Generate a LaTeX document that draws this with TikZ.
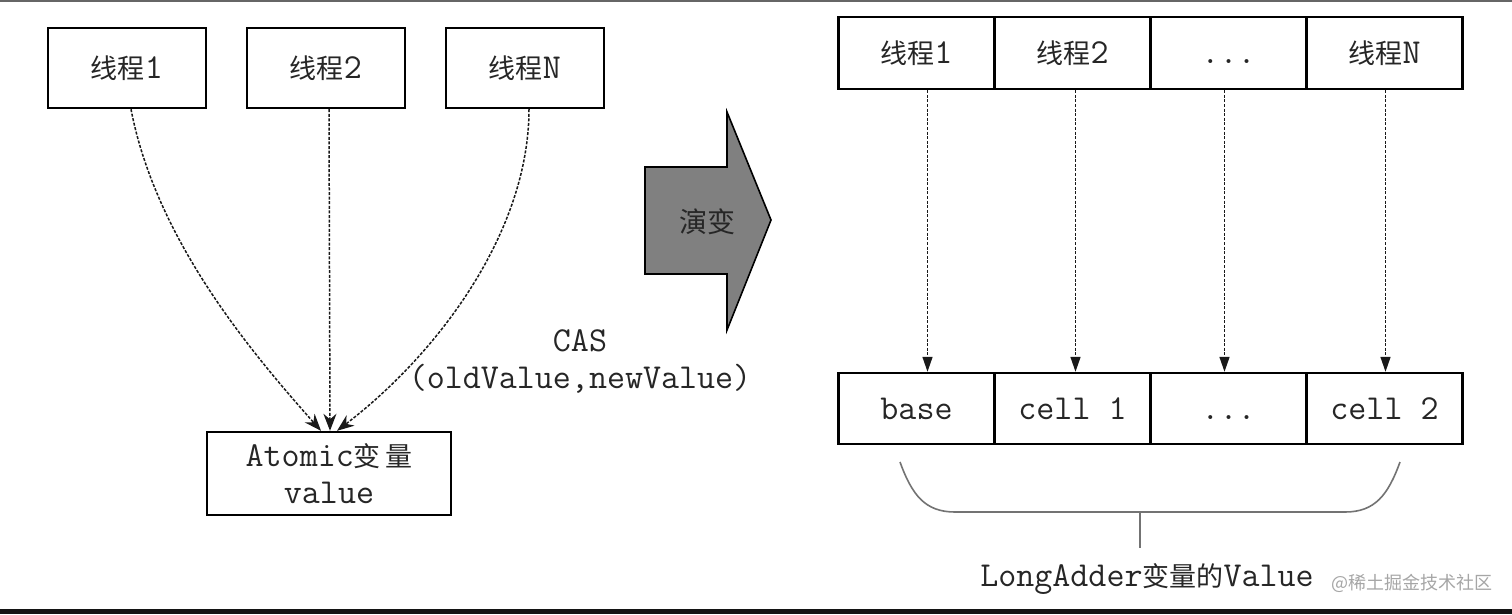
\documentclass[tikz,border=0pt]{standalone}
\usepackage{fontspec}
\newfontfamily\cjk{Noto Sans CJK SC}
\usetikzlibrary{arrows.meta}
\newcommand\zhtext[1]{{\cjk\fontsize{27}{30}\selectfont #1}}
\begin{document}
\begin{tikzpicture}[x=1pt,y=-1pt,
  txt/.style={font=\ttfamily\fontsize{35}{37}\selectfont,text=black!85},
  box/.style={txt,draw=black,line width=2.4pt,minimum width=158pt,minimum height=80pt,inner sep=0pt},
  cell/.style={txt,draw=black,line width=2.4pt,minimum width=156pt,minimum height=72pt,inner sep=0pt},
  dasharrow/.style={draw=black!90,line width=1.5pt,dash pattern=on 3pt off 1.6pt,-{Stealth[length=17pt,width=13pt]}},
  rarrow/.style={draw=black!90,line width=1.4pt,dash pattern=on 3pt off 1.6pt,-{Triangle[length=15pt,width=10pt]}},
  bracestyle/.style={draw=black!55,line width=1.6pt}]
\fill[white] (0,0) rectangle (1512,614);
\fill[black!60] (0,0) rectangle (1512,2);
\fill[black!92] (0,609) rectangle (1512,614);
\useasboundingbox (0,0) rectangle (1512,614);

% left side
\node[box] (l1) at (127,68) {\zhtext{线程}1};
\node[box] (l2) at (326,68) {\zhtext{线程}2};
\node[box] (lN) at (525,68) {\zhtext{线程}N};
\node[box,minimum width=244pt,minimum height=83pt,align=center] (a) at (329,473.5) {Atomic\zhtext{变\,量}\\value};

\draw[dasharrow] ([xshift=4]l1.south) .. controls +(25,130) and +(-71,-80) .. ([xshift=-8]a.north);
\draw[dasharrow] ([xshift=3]l2.south) -- ([xshift=1]a.north);
\draw[dasharrow] ([xshift=4]lN.south) .. controls +(0,122) and +(102,-78) .. ([xshift=8]a.north);

\node[txt,align=center] (cas) at (580,361) {CAS\\(oldValue,newValue)};

% big arrow
\draw[fill=black!50,line width=1.6pt,line join=miter] (645,167) -- (727,167) -- (727,112) -- (771,220) -- (727,330) -- (727,274) -- (645,274) -- cycle;
\node[font=\cjk\fontsize{28}{30}\selectfont,text=black!85] (ev) at (707,222) {演变};

% right side
\node[cell] (t1) at (916.5,53) {\zhtext{线程}1};
\node[cell] (t2) at (1072.5,53) {\zhtext{线程}2};
\node[cell] (t3) at (1228.5,53) {\vphantom{c1}...};
\node[cell] (t4) at (1384.5,53) {\zhtext{线程}N};
\node[cell,minimum height=71pt] (b1) at (916.5,408.5) {base};
\node[cell,minimum height=71pt] (b2) at (1072.5,408.5) {cell 1};
\node[cell,minimum height=71pt] (b3) at (1228.5,408.5) {\vphantom{cell}...};
\node[cell,minimum height=71pt] (b4) at (1384.5,408.5) {cell 2};

\draw[rarrow] ([xshift=11]t1.south) -- ([xshift=11]b1.north);
\draw[rarrow] ([xshift=3]t2.south) -- ([xshift=3]b2.north);
\draw[rarrow] ([xshift=-4]t3.south) -- ([xshift=-4]b3.north);
\draw[rarrow] ([xshift=1]t4.south) -- ([xshift=1]b4.north);

% brace
\draw[bracestyle] (900,462) .. controls (912,495) and (925,512) .. (955,512) -- (1345,512) .. controls (1375,512) and (1388,495) .. (1400,462);
\coordinate (bm) at (1140,512);
\coordinate (be) at (1140,548);
\draw[bracestyle] (bm) -- (be);
\node[txt] (lbl) at (1147,579) {LongAdder\zhtext{变量的}Value};

\node[font=\cjk\fontsize{18}{20}\selectfont,text=black!35,anchor=west,inner sep=0pt] (wm) at (1331,583) {@稀土掘金技术社区};
\end{tikzpicture}
\end{document}
